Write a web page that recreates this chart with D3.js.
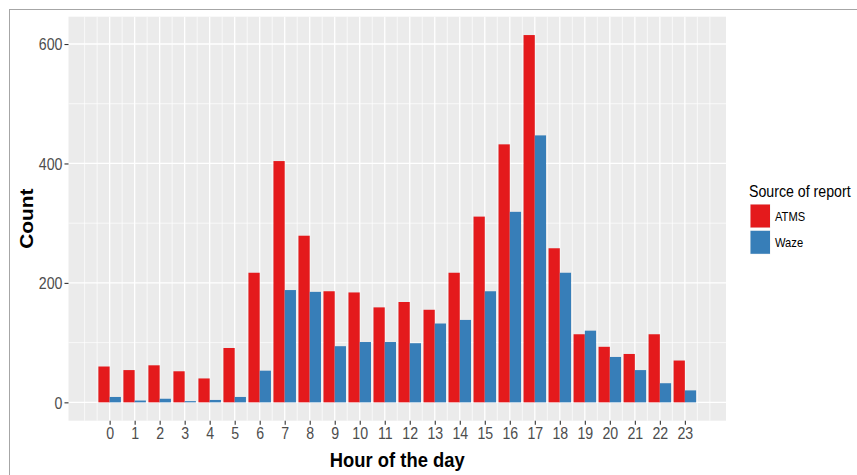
<!DOCTYPE html>
<html>
<head>
<meta charset="utf-8">
<script src="https://cdn.jsdelivr.net/npm/d3@7"></script>
<style>
  html, body { margin: 0; padding: 0; background: #ffffff; }
  svg { display: block; font-family: "Liberation Sans", Arial, sans-serif; }
</style>
</head>
<body>
<svg id="chart" width="857" height="475"></svg>
<script>
// ---- data ----
const hours = d3.range(0, 24);
const atms = [60, 54, 62, 52, 40, 91, 217, 404, 279, 186, 184, 159, 168, 155, 217, 311, 432, 615, 258, 114, 93, 81, 114, 70];
const waze = [9, 3, 6, 2, 4, 9, 53, 188, 185, 94, 101, 101, 99, 132, 138, 186, 319, 447, 217, 120, 76, 54, 32, 20];
const seriesNames = ["ATMS", "Waze"];
const seriesColors = ["#E41A1C", "#377EB8"];
const yTicks = [0, 200, 400, 600];
const yMinor = [100, 300, 500];
const xLabel = "Hour of the day";
const yLabel = "Count";
const legendTitle = "Source of report";

const rows = hours.map((h, i) => ({ hour: h, values: [atms[i], waze[i]] }));

const svg = d3.select("#chart");
const SQ = 0.86; // horizontal squeeze of text seen in the reference

// outer frame
svg.append("rect").attr("x", 9.5).attr("y", 9.5).attr("width", 900).attr("height", 500)
  .attr("fill", "none").attr("stroke", "#a6a6a6").attr("stroke-width", 1);

const panel = { left: 68.5, right: 726, top: 16.7, bottom: 420.7 };
const barW = 0.9;
const xPad = (23 + barW) * 0.05;
const x = d3.scaleLinear()
  .domain([-barW / 2 - xPad, 23 + barW / 2 + xPad])
  .range([panel.left, panel.right]);
const yMax = d3.max(atms.concat(waze));
const yPad = yMax * 0.05;
const y = d3.scaleLinear().domain([-yPad, yMax + yPad]).range([panel.bottom, panel.top]);

// panel background
svg.append("rect").attr("x", panel.left).attr("y", panel.top)
  .attr("width", panel.right - panel.left).attr("height", panel.bottom - panel.top)
  .attr("fill", "#EBEBEB");

const grid = svg.append("g");
// minor grid
const xMinor = d3.range(-1, 24.01, 0.5).filter(v => !hours.includes(v));
grid.selectAll(".hmin").data(yMinor).join("line")
  .attr("x1", panel.left).attr("x2", panel.right)
  .attr("y1", d => y(d)).attr("y2", d => y(d))
  .attr("stroke", "#fff").attr("stroke-width", 0.7);
grid.selectAll(".vmin").data(xMinor).join("line")
  .attr("y1", panel.top).attr("y2", panel.bottom)
  .attr("x1", d => x(d)).attr("x2", d => x(d))
  .attr("stroke", "#fff").attr("stroke-width", 0.7);
// major grid
grid.selectAll(".hmaj").data(yTicks).join("line")
  .attr("x1", panel.left).attr("x2", panel.right)
  .attr("y1", d => y(d)).attr("y2", d => y(d))
  .attr("stroke", "#fff").attr("stroke-width", 1.3);
grid.selectAll(".vmaj").data(hours).join("line")
  .attr("y1", panel.top).attr("y2", panel.bottom)
  .attr("x1", d => x(d)).attr("x2", d => x(d))
  .attr("stroke", "#fff").attr("stroke-width", 1.3);

// bars
const bars = svg.append("g");
rows.forEach(r => {
  r.values.forEach((v, si) => {
    const x0 = r.hour - barW / 2 + si * barW / 2;
    bars.append("rect")
      .attr("x", x(x0))
      .attr("width", x(x0 + barW / 2) - x(x0))
      .attr("y", y(v))
      .attr("height", y(0) - y(v))
      .attr("fill", seriesColors[si]);
  });
});

// axes
const xAxis = svg.append("g").attr("transform", `translate(0,${panel.bottom})`)
  .call(d3.axisBottom(x).tickValues(hours).tickFormat(d3.format("d")).tickSize(4).tickPadding(3));
xAxis.select(".domain").remove();
xAxis.selectAll(".tick line").attr("stroke", "#333333").attr("stroke-width", 1.1);
xAxis.selectAll(".tick text").attr("fill", "#4D4D4D").style("font-size", "16.5px")
  .attr("transform", `scale(${SQ},1)`);

const yAxis = svg.append("g").attr("transform", `translate(${panel.left},0)`)
  .call(d3.axisLeft(y).tickValues(yTicks).tickFormat(d3.format("d")).tickSize(4).tickPadding(3));
yAxis.select(".domain").remove();
yAxis.selectAll(".tick line").attr("stroke", "#333333").attr("stroke-width", 1.1);
yAxis.selectAll(".tick text").attr("fill", "#4D4D4D").style("font-size", "16.5px")
  .attr("dy", "0.35em")
  .attr("transform", `scale(${SQ},1)`);

// axis titles
svg.append("text")
  .attr("transform", `translate(${(panel.left + panel.right) / 2},467) scale(0.92,1)`)
  .attr("text-anchor", "middle").style("font-size", "20px").style("font-weight", "bold")
  .attr("fill", "#000").text(xLabel);
svg.append("text")
  .attr("transform", `translate(33,${(panel.top + panel.bottom) / 2}) rotate(-90) scale(1.04,0.9)`)
  .attr("text-anchor", "middle").style("font-size", "20px").style("font-weight", "bold")
  .attr("fill", "#000").text(yLabel);

// legend
const lg = svg.append("g").attr("transform", "translate(749,0)");
lg.append("text").attr("transform", `translate(0,197) scale(${SQ},1)`)
  .style("font-size", "16.5px").attr("fill", "#000").text(legendTitle);
seriesNames.forEach((name, i) => {
  const ky = 204 + i * 26.3;
  lg.append("rect").attr("x", 1).attr("y", ky).attr("width", 20.5).attr("height", 24)
    .attr("fill", "#F2F2F2");
  lg.append("rect").attr("x", 1.5).attr("y", ky + 0.5).attr("width", 19.5).attr("height", 23)
    .attr("fill", seriesColors[i]);
  lg.append("text").attr("transform", `translate(26,${ky + 12}) scale(${SQ},1)`)
    .attr("dy", "0.35em").style("font-size", "13px").attr("fill", "#000").text(name);
});
</script>
</body>
</html>
